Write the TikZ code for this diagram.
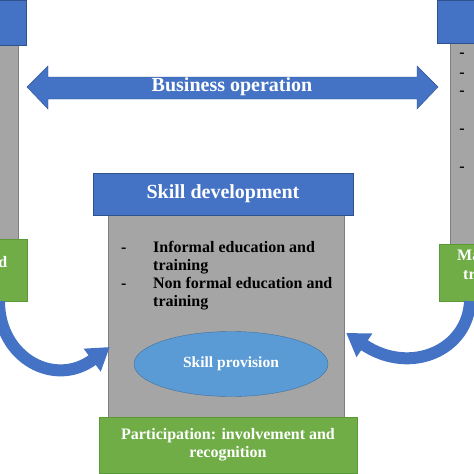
\documentclass[tikz,border=0pt]{standalone}
\usepackage{fontspec}
\setmainfont{Liberation Serif}
\usetikzlibrary{shapes.geometric,arrows.meta}
\definecolor{boxblue}{HTML}{4472C4}
\definecolor{blueline}{HTML}{2F528F}
\definecolor{boxgray}{HTML}{A5A5A5}
\definecolor{grayline}{HTML}{7F7F7F}
\definecolor{boxgreen}{HTML}{70AD47}
\definecolor{greenline}{HTML}{5A9A36}
\definecolor{ellblue}{HTML}{5B9BD5}
\definecolor{ellline}{HTML}{41719C}

\begin{document}
\begin{tikzpicture}[
  x = 1pt, y = -1pt,
  every node/.style = {inner sep = 0pt, font = \bfseries\fontsize{16}{18}\selectfont},
  bluebox/.style = {draw = blueline, fill = boxblue, text = white,
                    font = \bfseries\fontsize{20}{22}\selectfont},
  graybox/.style = {draw = grayline, fill = boxgray},
  greenbox/.style = {draw = greenline, fill = boxgreen, text = white, align = center},
  whitetext/.style = {text = white},
  bend arrow/.style = {line width = 12pt, draw = boxblue, -{Triangle[length = 22pt, width = 27pt]}}
  ]
  \useasboundingbox (0,0) rectangle (474,474);
  \clip (0,0) rectangle (474,474);

  \node[graybox, minimum width = 80pt, minimum height = 194pt] (lgray) at (-22,142) {};
  \node[bluebox, minimum width = 100pt, minimum height = 45pt] (lblue) at (-24,22.5) {};
  \node[greenbox, minimum width = 90pt, minimum height = 62pt] (lgreen) at (-18,270) {};
  \node[whitetext, anchor = base east] (ltext) at (7.5,267) {d};

  \node[graybox, minimum width = 80pt, minimum height = 201pt] (rgray) at (490,143.5) {};
  \node[bluebox, minimum width = 100pt, minimum height = 43pt] (rblue) at (487,21.5) {};
  \foreach \y in {55,75,93,131,169}
    \node (rdash\y) at (462,\y) {-};
  \node[greenbox, minimum width = 100pt, minimum height = 57pt] (rgreen) at (489,272.5) {};
  \node[whitetext, anchor = base west] (rtexta) at (457,260) {Ma};
  \node[whitetext, anchor = base west] (rtextb) at (463,279) {tr};

  \draw[fill = boxblue, draw = blueline] (27,87) -- (48,66) -- (48,77) -- (417,77) -- (417,66)
    -- (438,87) -- (417,109) -- (417,99) -- (48,99) -- (48,109) -- cycle;
  \node[whitetext, font = \bfseries\fontsize{20}{22}\selectfont] (busop) at (232,87) {Business operation};

  \node[graybox, minimum width = 236pt, minimum height = 202pt] (skillbox) at (226,316) {};
  \node[bluebox, minimum width = 260pt, minimum height = 42pt] (skilldev) at (223,194) {Skill development};
  \node[anchor = north west, align = left] (forms) at (121,241)
    {\makebox[32pt][l]{-}Informal education and\\
     \hspace*{32pt}training\\
     \makebox[32pt][l]{-}Non formal education and\\
     \hspace*{32pt}training};
  \node[ellipse, draw = ellline, fill = ellblue, text = white, minimum width = 194pt,
        minimum height = 65pt, font = \bfseries\fontsize{15.5}{18}\selectfont] (provision) at (231,364) {Skill provision};
  \node[greenbox, minimum width = 258pt, minimum height = 56pt] (particip) at (228,445)
    {Participation: involvement and\\recognition};

  \draw[bend arrow] ([xshift = 17pt]lgreen.south) .. controls +(0,57) and +(-55,41)
    .. ([xshift = 2pt, yshift = -31pt]skillbox.west);
  \draw[bend arrow] ([xshift = -19pt]rgreen.south) .. controls +(-2,49) and +(64,43)
    .. ([xshift = 2pt, yshift = -17pt]skillbox.east);
\end{tikzpicture}
\end{document}
